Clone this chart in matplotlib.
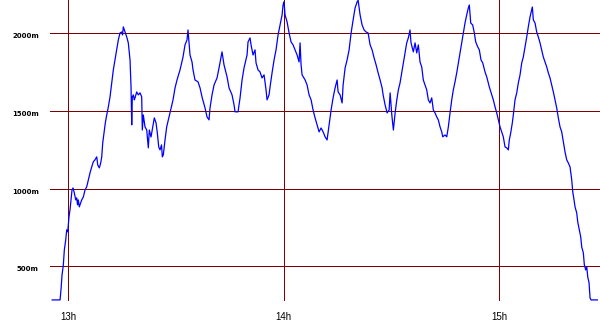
import numpy as np
import matplotlib
matplotlib.use("Agg")
import matplotlib.pyplot as plt

# altitude track: minutes after 13:00 and altitude in meters
minutes = [-4.5, -2.3, -2.0, -1.75, -1.39, -1.11, -0.72, -0.45, -0.17, 0.19, 0.47, 0.75,
           1.03, 1.31, 1.67, 2.06, 2.34, 2.56, 2.78, 3.06, 3.26, 3.73, 4.18, 4.65,
           5.12, 5.57, 6.04, 6.51, 6.96, 7.43, 7.91, 8.19, 8.63, 9.02, 9.30, 9.58,
           9.94, 10.30, 10.69, 11.14, 11.61, 12.08, 12.53, 13.0, 13.47, 13.92, 14.39, 14.87,
           15.09, 15.31, 15.79, 16.26, 16.70, 17.18, 17.46, 17.65, 17.82, 18.10, 18.37, 18.57,
           19.04, 19.49, 19.96, 20.43, 20.60, 20.88, 21.35, 21.83, 22.27, 22.55, 23.02, 23.50,
           23.94, 24.42, 24.78, 25.17, 25.53, 25.95, 26.17, 26.45, 26.92, 27.39, 28.31, 29.15,
           29.71, 30.26, 31.10, 31.93, 32.49, 33.05, 33.19, 33.32, 33.60, 33.88, 34.44, 34.72,
           35.27, 36.11, 36.67, 37.22, 38.06, 38.62, 39.17, 39.45, 40.01, 40.57, 41.40, 41.96,
           42.52, 42.79, 43.35, 44.19, 44.75, 45.58, 46.14, 46.42, 47.25, 47.81, 48.37, 48.92,
           49.76, 50.03, 50.59, 50.87, 51.43, 51.98, 52.26, 52.82, 53.37, 53.93, 54.49, 55.05,
           55.33, 55.88, 56.16, 56.72, 57.28, 57.83, 58.39, 58.95, 59.51, 59.79, 60.06, 60.34,
           60.90, 61.46, 62.01, 62.57, 63.13, 63.69, 64.24, 64.52, 64.80, 65.08, 65.92, 66.47,
           67.03, 67.59, 68.14, 68.70, 69.26, 69.81, 70.37, 70.93, 71.49, 72.04, 72.60, 73.16,
           73.71, 74.27, 74.83, 75.11, 75.66, 76.22, 76.50, 77.06, 77.61, 78.17, 78.73, 79.29,
           79.84, 80.40, 80.68, 81.23, 81.79, 82.35, 82.90, 83.46, 84.02, 84.57, 85.13, 85.69,
           86.25, 86.80, 87.36, 87.64, 88.19, 88.75, 89.31, 89.59, 90.06, 90.50, 90.98, 91.45,
           91.88, 92.35, 92.82, 93.27, 93.74, 94.21, 94.66, 95.13, 95.41, 96.05, 96.53, 97.0,
           97.44, 97.92, 98.39, 98.83, 99.31, 99.78, 100.23, 100.70, 101.17, 101.62, 102.09, 102.57,
           103.01, 103.49, 103.96, 104.24, 104.88, 105.35, 105.80, 106.27, 106.74, 107.18, 107.66, 108.13,
           108.58, 109.05, 109.52, 109.97, 110.44, 110.91, 111.36, 111.64, 112.03, 112.58, 113.03, 113.42,
           113.98, 114.42, 114.90, 115.37, 116.01, 116.49, 117.21, 117.88, 118.32, 118.80, 119.27, 119.72,
           120.19, 120.66, 121.10, 121.58, 122.05, 122.50, 122.77, 123.16, 123.61, 123.89, 124.36, 124.84,
           125.28, 125.76, 126.23, 126.67, 127.15, 127.62, 128.06, 128.54, 129.01, 129.18, 129.46, 129.93,
           130.40, 130.85, 131.32, 131.79, 132.24, 132.72, 133.19, 133.63, 134.11, 134.58, 135.03, 135.50,
           135.97, 136.42, 136.89, 137.36, 137.81, 138.28, 138.75, 139.20, 139.68, 140.15, 140.43, 140.79,
           141.07, 141.54, 141.82, 142.26, 142.65, 142.93, 143.38, 143.66, 144.05, 144.33, 144.61, 144.97,
           145.25, 145.52, 147.28]
altitude = [283, 283, 360, 444, 508, 605, 669, 734, 721, 818, 863, 927,
            991, 1004, 972, 927, 940, 895, 927, 882, 895, 927, 946, 991,
            1011, 1056, 1101, 1139, 1172, 1185, 1204, 1152, 1133, 1165, 1204, 1294,
            1358, 1423, 1474, 1526, 1590, 1680, 1764, 1828, 1893, 1957, 2002, 2008,
            1989, 2041, 2008, 1976, 1938, 1828, 1654, 1410, 1590, 1603, 1571, 1584,
            1622, 1603, 1616, 1590, 1377, 1474, 1397, 1377, 1262, 1377, 1332, 1397,
            1455, 1423, 1358, 1268, 1249, 1281, 1204, 1217, 1313, 1397, 1487, 1571,
            1648, 1699, 1764, 1847, 1925, 1957, 1989, 2021, 1938, 1860, 1815, 1764,
            1699, 1687, 1648, 1590, 1519, 1461, 1442, 1519, 1603, 1667, 1712, 1777,
            1847, 1880, 1796, 1719, 1648, 1603, 1539, 1494, 1494, 1584, 1699, 1777,
            1860, 1944, 1970, 1925, 1860, 1893, 1809, 1764, 1751, 1712, 1732, 1635,
            1571, 1603, 1654, 1745, 1828, 1893, 1989, 2053, 2118, 2182, 2202, 2118,
            2073, 2002, 1944, 1925, 1893, 1860, 1815, 1938, 1796, 1732, 1699, 1667,
            1603, 1571, 1506, 1455, 1410, 1365, 1390, 1365, 1333, 1313, 1410, 1506,
            1584, 1648, 1699, 1622, 1603, 1551, 1667, 1777, 1828, 1893, 2002, 2086,
            2163, 2202, 2212, 2118, 2053, 2021, 2008, 2002, 1925, 1893, 1841, 1796,
            1745, 1699, 1648, 1603, 1539, 1487, 1506, 1616, 1474, 1377, 1487, 1571,
            1635, 1680, 1745, 1809, 1873, 1938, 1970, 2021, 1938, 1880, 1938, 1873,
            1925, 1815, 1783, 1699, 1667, 1635, 1571, 1551, 1584, 1506, 1487, 1461,
            1442, 1397, 1365, 1333, 1345, 1333, 1397, 1487, 1571, 1635, 1687, 1745,
            1809, 1873, 1938, 2002, 2066, 2118, 2163, 2182, 2066, 2053, 2002, 1944,
            1912, 1893, 1828, 1809, 1751, 1719, 1654, 1603, 1571, 1526, 1487, 1442,
            1397, 1365, 1333, 1268, 1262, 1249, 1313, 1358, 1423, 1474, 1571, 1616,
            1680, 1732, 1809, 1847, 1912, 1976, 2041, 2105, 2150, 2169, 2086, 2066,
            2008, 1976, 1938, 1893, 1847, 1815, 1783, 1745, 1712, 1667, 1622, 1571,
            1519, 1455, 1397, 1365, 1300, 1236, 1185, 1165, 1139, 1056, 979, 927,
            882, 843, 785, 734, 689, 624, 586, 509, 476, 496, 431, 393,
            296, 283, 283]

hour_ticks = [13, 14, 15]
hour_labels = ["13h", "14h", "15h"]
alt_ticks = [500, 1000, 1500, 2000]
alt_labels = ["500m", "1000m", "1500m", "2000m"]

hours = 13 + np.array(minutes) / 60.0

fig = plt.figure(figsize=(6, 3.3), dpi=100)
ax = fig.add_axes([50 / 600, 29 / 330, 550 / 600, 301 / 330])

grid_color = "#800000"
for h in hour_ticks:
    ax.axvline(h, color=grid_color, lw=0.72, zorder=1)
for a in alt_ticks:
    ax.axhline(a, color=grid_color, lw=0.72, zorder=1)

ax.plot(hours, altitude, color="#0000ff", lw=0.9, zorder=2)

ax.set_xlim(12.915, 15.467)
ax.set_ylim(276, 2214)

ax.set_xticks(hour_ticks)
ax.set_xticklabels(hour_labels, fontsize=7, family="Liberation Sans")
ax.set_yticks(alt_ticks)
ax.set_yticklabels(alt_labels, fontsize=5, fontweight="bold", va="top")
ax.tick_params(axis="x", length=0, pad=8)
ax.tick_params(axis="y", length=0, pad=8)

for s in ax.spines.values():
    s.set_visible(False)

fig.savefig("out.png", dpi=100)
